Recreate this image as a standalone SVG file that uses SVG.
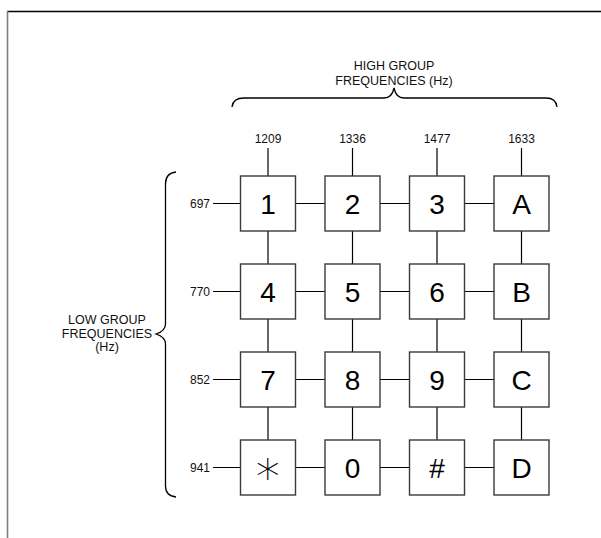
<svg xmlns="http://www.w3.org/2000/svg" width="601" height="538" viewBox="0 0 601 538">
<style>
.key{fill:#fff;stroke:#3a3a3a;stroke-width:1.4}
.kt{font-family:"Liberation Sans",Arial,sans-serif;font-size:28px;text-anchor:middle;fill:#000}
.lbl{font-family:"Liberation Sans",Arial,sans-serif;font-size:12px;fill:#111}
.con{stroke:#000;stroke-width:1.2;fill:none}
.brace{stroke:#000;stroke-width:1.3;fill:none}
</style>
<rect width="601" height="538" fill="#fff"/>
<line x1="7" y1="11.5" x2="601" y2="11.5" stroke="#000" stroke-width="1.5"/>
<line x1="7.5" y1="11" x2="7.5" y2="538" stroke="#808080" stroke-width="1.6"/>

<g id="high-group-label">
<text class="lbl" x="394" y="70" text-anchor="middle" style="font-size:12.5px">HIGH GROUP</text>
<text class="lbl" x="394" y="85" text-anchor="middle" style="font-size:12.5px">FREQUENCIES (Hz)</text>
<path class="brace" d="M232,107 Q233,98 244,98 L384,98 Q392,98 394,88 Q396,98 404,98 L546,98 Q556,98 557,107"/>
</g>
<g id="low-group-label">
<text class="lbl" x="107" y="324" text-anchor="middle" style="font-size:12.5px">LOW GROUP</text>
<text class="lbl" x="107" y="338" text-anchor="middle" style="font-size:12.5px">FREQUENCIES</text>
<text class="lbl" x="107" y="351" text-anchor="middle" style="font-size:12.5px">(Hz)</text>
<path class="brace" d="M176,172 Q165.5,173 165.5,184 L165.5,324 Q165.5,331 156,334 Q165.5,337 165.5,344 L165.5,486 Q165.5,496 176,497"/>
</g>

<g id="freq-labels">
<text class="lbl" x="268" y="143" text-anchor="middle">1209</text>
<text class="lbl" x="352.5" y="143" text-anchor="middle">1336</text>
<text class="lbl" x="437" y="143" text-anchor="middle">1477</text>
<text class="lbl" x="521.5" y="143" text-anchor="middle">1633</text>
<text class="lbl" x="210" y="208" text-anchor="end">697</text>
<text class="lbl" x="210" y="296" text-anchor="end">770</text>
<text class="lbl" x="210" y="384" text-anchor="end">852</text>
<text class="lbl" x="210" y="472" text-anchor="end">941</text>
</g>

<g id="connectors">
<line class="con" x1="268" y1="148" x2="268" y2="176"/>
<line class="con" x1="352.5" y1="148" x2="352.5" y2="176"/>
<line class="con" x1="437" y1="148" x2="437" y2="176"/>
<line class="con" x1="521.5" y1="148" x2="521.5" y2="176"/>
<line class="con" x1="268" y1="231" x2="268" y2="440"/>
<line class="con" x1="352.5" y1="231" x2="352.5" y2="440"/>
<line class="con" x1="437" y1="231" x2="437" y2="440"/>
<line class="con" x1="521.5" y1="231" x2="521.5" y2="440"/>
<line class="con" x1="213" y1="203.5" x2="494" y2="203.5"/>
<line class="con" x1="213" y1="291.5" x2="494" y2="291.5"/>
<line class="con" x1="213" y1="379.5" x2="494" y2="379.5"/>
<line class="con" x1="213" y1="467.5" x2="494" y2="467.5"/>
</g>

<g id="key-1"><rect class="key" x="240.5" y="176" width="55" height="55"/><text class="kt" x="268" y="213.5">1</text></g>
<g id="key-2"><rect class="key" x="325" y="176" width="55" height="55"/><text class="kt" x="352.5" y="213.5">2</text></g>
<g id="key-3"><rect class="key" x="409.5" y="176" width="55" height="55"/><text class="kt" x="437" y="213.5">3</text></g>
<g id="key-A"><rect class="key" x="494" y="176" width="55" height="55"/><text class="kt" x="521.5" y="213.5">A</text></g>
<g id="key-4"><rect class="key" x="240.5" y="264" width="55" height="55"/><text class="kt" x="268" y="301.5">4</text></g>
<g id="key-5"><rect class="key" x="325" y="264" width="55" height="55"/><text class="kt" x="352.5" y="301.5">5</text></g>
<g id="key-6"><rect class="key" x="409.5" y="264" width="55" height="55"/><text class="kt" x="437" y="301.5">6</text></g>
<g id="key-B"><rect class="key" x="494" y="264" width="55" height="55"/><text class="kt" x="521.5" y="301.5">B</text></g>
<g id="key-7"><rect class="key" x="240.5" y="352" width="55" height="55"/><text class="kt" x="268" y="389.5">7</text></g>
<g id="key-8"><rect class="key" x="325" y="352" width="55" height="55"/><text class="kt" x="352.5" y="389.5">8</text></g>
<g id="key-9"><rect class="key" x="409.5" y="352" width="55" height="55"/><text class="kt" x="437" y="389.5">9</text></g>
<g id="key-C"><rect class="key" x="494" y="352" width="55" height="55"/><text class="kt" x="521.5" y="389.5">C</text></g>
<g id="key-star"><rect class="key" x="240.5" y="440" width="55" height="55"/><text x="268" y="483.5" fill="#000" style="font-family:'DejaVu Sans',sans-serif;font-size:48px;font-weight:200;text-anchor:middle">∗</text></g>
<g id="key-0"><rect class="key" x="325" y="440" width="55" height="55"/><text class="kt" x="352.5" y="477.5">0</text></g>
<g id="key-hash"><rect class="key" x="409.5" y="440" width="55" height="55"/><text class="kt" x="437" y="477.5">#</text></g>
<g id="key-D"><rect class="key" x="494" y="440" width="55" height="55"/><text class="kt" x="521.5" y="477.5">D</text></g>
</svg>
